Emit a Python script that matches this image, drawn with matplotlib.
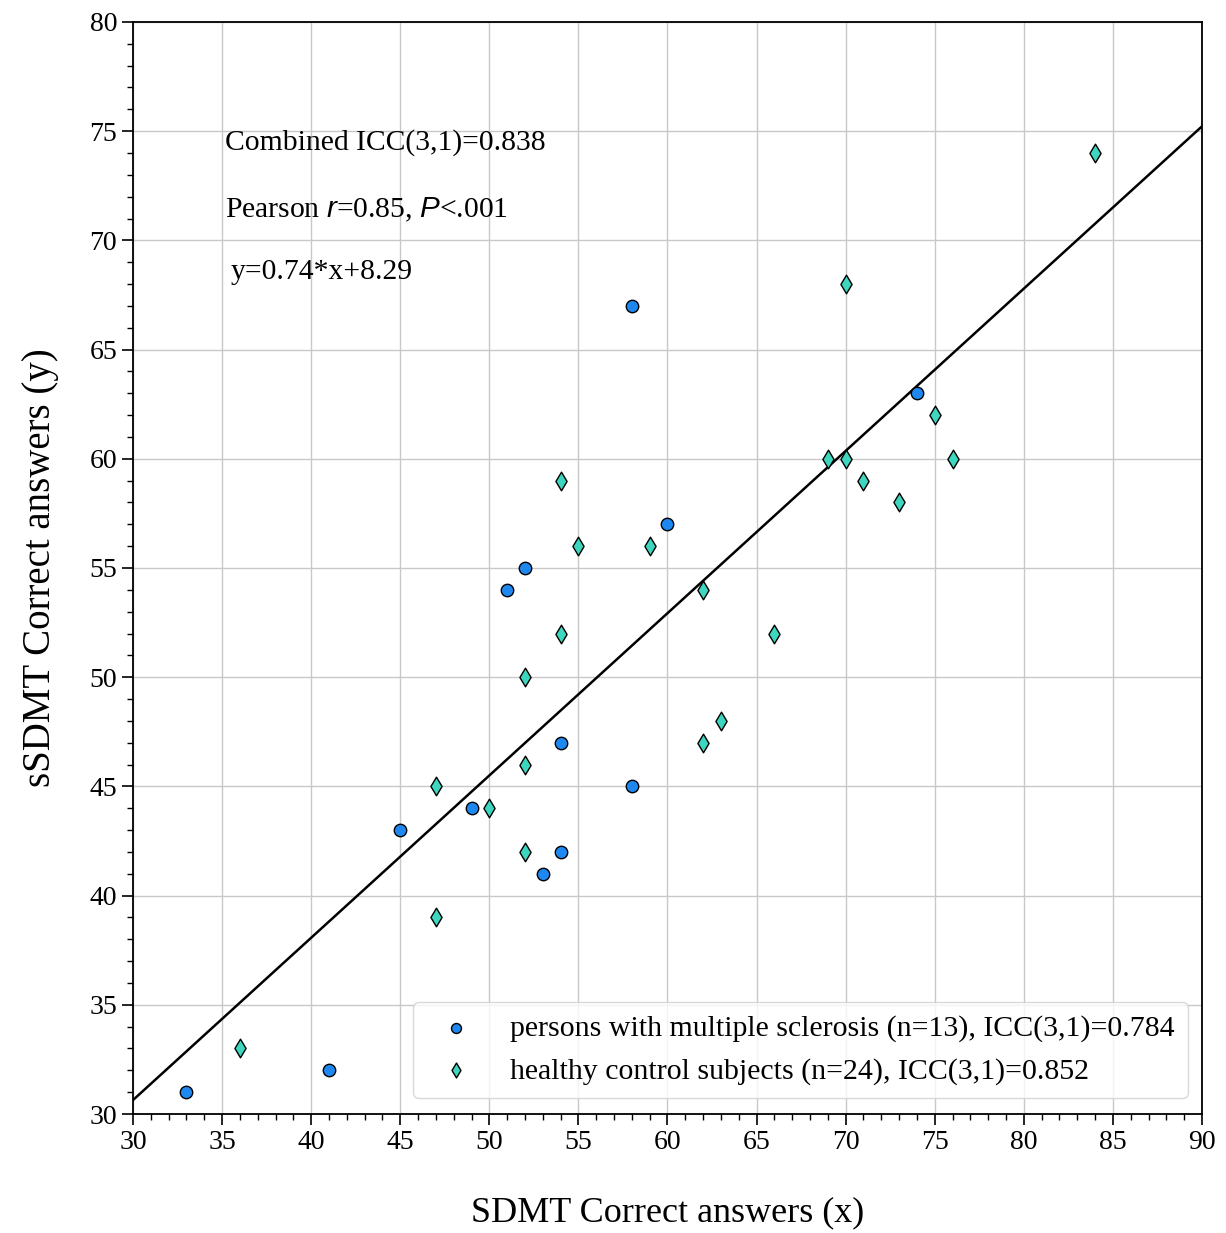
import numpy as np
import matplotlib.pyplot as plt
from matplotlib.ticker import MultipleLocator

plt.rcParams['font.family'] = ['Liberation Serif', 'DejaVu Serif']
plt.rcParams['mathtext.fontset'] = 'custom'
plt.rcParams['mathtext.it'] = 'Liberation Sans:italic'
plt.rcParams['mathtext.rm'] = 'Liberation Serif'

# persons with multiple sclerosis
ms_x = [33, 41, 45, 49, 51, 52, 53, 54, 54, 58, 58, 60, 74]
ms_y = [31, 32, 43, 44, 54, 55, 41, 47, 42, 67, 45, 57, 63]

# healthy control subjects
hc_x = [36, 47, 47, 50, 52, 52, 52, 54, 54, 55, 59, 62, 62, 63, 66, 69, 70, 70, 71, 73, 75, 76, 84]
hc_y = [33, 45, 39, 44, 50, 46, 42, 59, 52, 56, 56, 54, 47, 48, 52, 60, 68, 60, 59, 58, 62, 60, 74]

# regression line
slope = 0.743
intercept = 8.35
line_x = np.array([30, 90])

fig = plt.figure(figsize=(12.26, 12.33), dpi=100)
ax = fig.add_axes([0.1085, 0.0965, 0.8719, 0.8857])

ax.grid(True, which='major', color='#c8c8c8', linewidth=1.0, zorder=0)
ax.set_axisbelow(True)

ax.plot(line_x, slope * line_x + intercept, color='black', linewidth=1.8, zorder=2)
ax.scatter(ms_x, ms_y, s=80, marker='o', color='#1E88F0', edgecolors='black', linewidths=1.0,
           zorder=3, label='persons with multiple sclerosis (n=13), ICC(3,1)=0.784')
ax.scatter(hc_x, hc_y, s=90, marker='d', color='#3ED6BE', edgecolors='black', linewidths=1.0,
           zorder=3, label='healthy control subjects (n=24), ICC(3,1)=0.852')

ax.set_xlim(30, 90)
ax.set_ylim(30, 80)
ax.xaxis.set_major_locator(MultipleLocator(5))
ax.yaxis.set_major_locator(MultipleLocator(5))
ax.xaxis.set_minor_locator(MultipleLocator(1))
ax.yaxis.set_minor_locator(MultipleLocator(1))
ax.tick_params(which='major', length=8, width=1.2, labelsize=20, direction='out')
ax.tick_params(which='minor', length=4, width=1.0, direction='out')
for sp in ax.spines.values():
    sp.set_linewidth(1.3)

ax.set_xlabel('SDMT Correct answers (x)', fontsize=26, labelpad=30)
ax.set_ylabel('sSDMT Correct answers (y)', fontsize=28, labelpad=22)

ax.text(35.15, 74.5, 'Combined ICC(3,1)=0.838', fontsize=21.3, va='center')
ax.text(35.15, 71.4, 'Pearson $r$=0.85, $P$<.001', fontsize=21.3, va='center')
ax.text(35.5, 68.55, 'y=0.74*x+8.29', fontsize=21.3, va='center')

ax.legend(loc='lower right', fontsize=21.5, markerscale=0.8, frameon=True, fancybox=True,
          edgecolor='#d0d0d0', borderpad=0.45, handletextpad=0.8, labelspacing=0.5,
          borderaxespad=0, bbox_to_anchor=(0.987, 0.0147))

plt.savefig('out.png', dpi=100)
